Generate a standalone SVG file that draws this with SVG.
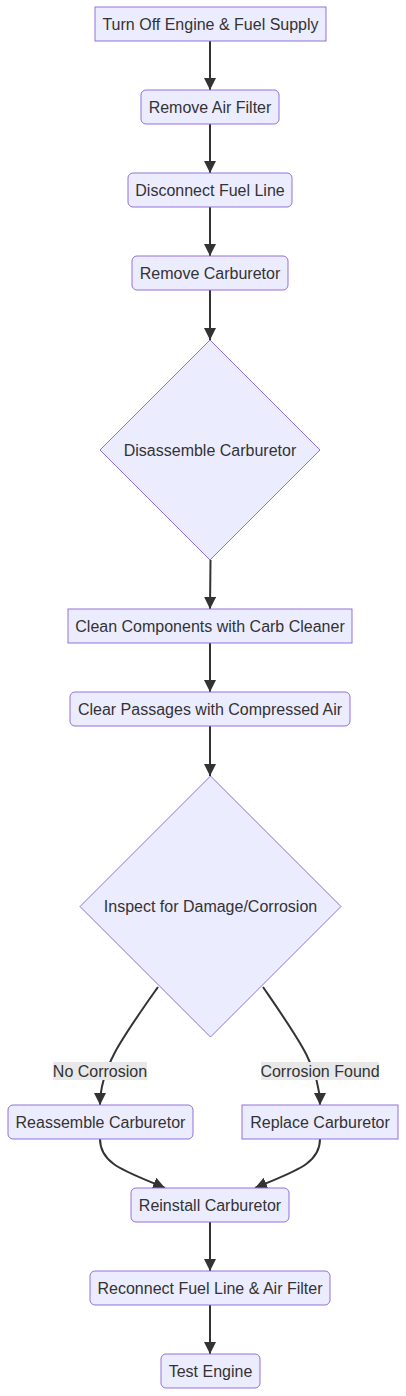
<svg xmlns="http://www.w3.org/2000/svg" width="406" height="1396" viewBox="0 0 406 1396">
<style>
.n{fill:#ECECFF;stroke:#9370DB;stroke-width:1}
.t{font-family:"Liberation Sans",Arial,sans-serif;font-size:16px;fill:#333;text-anchor:middle;dominant-baseline:central}
.e{fill:none;stroke:#333;stroke-width:2}
.lb{fill:#e8e8e8}
</style>
<defs>
<marker id="ah" markerUnits="userSpaceOnUse" markerWidth="12" markerHeight="12" refX="12" refY="6" orient="auto">
<path d="M0,0 L12,6 L0,12 z" fill="#333"/>
</marker>
</defs>
<rect width="406" height="1396" fill="#fff"/>
<g id="edges">
<path class="e" marker-end="url(#ah)" d="M210,41 L210,90"/>
<path class="e" marker-end="url(#ah)" d="M210,124 L210,173"/>
<path class="e" marker-end="url(#ah)" d="M210,207 L210,256"/>
<path class="e" marker-end="url(#ah)" d="M210,290 L210,340"/>
<path class="e" marker-end="url(#ah)" d="M210.5,560 L210,609"/>
<path class="e" marker-end="url(#ah)" d="M210,643 L210,692"/>
<path class="e" marker-end="url(#ah)" d="M210,726 L210,776"/>
<path class="e" marker-end="url(#ah)" d="M158,987 C122,1038 100,1068 100,1105"/>
<path class="e" marker-end="url(#ah)" d="M263,987 C298,1038 320,1068 320,1105"/>
<path class="e" marker-end="url(#ah)" d="M100,1139 C100,1165 128,1172 165,1188"/>
<path class="e" marker-end="url(#ah)" d="M320,1139 C320,1165 292,1172 255,1188"/>
<path class="e" marker-end="url(#ah)" d="M210,1222 L210,1271"/>
<path class="e" marker-end="url(#ah)" d="M210,1305 L210,1354"/>
<rect class="lb" x="53" y="1062" width="94" height="18"/>
<text class="t" x="100" y="1071">No Corrosion</text>
<rect class="lb" x="261" y="1062" width="118" height="18"/>
<text class="t" x="320" y="1071">Corrosion Found</text>
</g>
<g id="n1"><rect class="n" x="95" y="7" width="231" height="34"/><text class="t" x="210.5" y="24">Turn Off Engine &amp; Fuel Supply</text></g>
<g id="n2"><rect class="n" x="141" y="90" width="138" height="34" rx="5"/><text class="t" x="210" y="107">Remove Air Filter</text></g>
<g id="n3"><rect class="n" x="128" y="173" width="164" height="34" rx="5"/><text class="t" x="210" y="190">Disconnect Fuel Line</text></g>
<g id="n4"><rect class="n" x="132" y="256" width="156" height="34" rx="5"/><text class="t" x="210" y="273">Remove Carburetor</text></g>
<g id="n5"><polygon class="n" points="210,340 320,450 210,560 100,450"/><text class="t" x="210" y="450">Disassemble Carburetor</text></g>
<g id="n6"><rect class="n" x="68" y="609" width="284" height="34"/><text class="t" x="210" y="626">Clean Components with Carb Cleaner</text></g>
<g id="n7"><rect class="n" x="70" y="692" width="280" height="34" rx="5"/><text class="t" x="210" y="709">Clear Passages with Compressed Air</text></g>
<g id="n8"><polygon class="n" points="210.5,776 341,906.5 210.5,1037 80,906.5"/><text class="t" x="210.5" y="906.5">Inspect for Damage/Corrosion</text></g>
<g id="n9"><rect class="n" x="8" y="1105" width="185" height="34" rx="5"/><text class="t" x="100.5" y="1122">Reassemble Carburetor</text></g>
<g id="n10"><rect class="n" x="242" y="1105" width="156" height="34"/><text class="t" x="320" y="1122">Replace Carburetor</text></g>
<g id="n11"><rect class="n" x="131" y="1188" width="158" height="34" rx="5"/><text class="t" x="210" y="1205">Reinstall Carburetor</text></g>
<g id="n12"><rect class="n" x="90" y="1271" width="240" height="34" rx="5"/><text class="t" x="210" y="1288">Reconnect Fuel Line &amp; Air Filter</text></g>
<g id="n13"><rect class="n" x="161" y="1354" width="99" height="34" rx="5"/><text class="t" x="210.5" y="1371">Test Engine</text></g>
</svg>
